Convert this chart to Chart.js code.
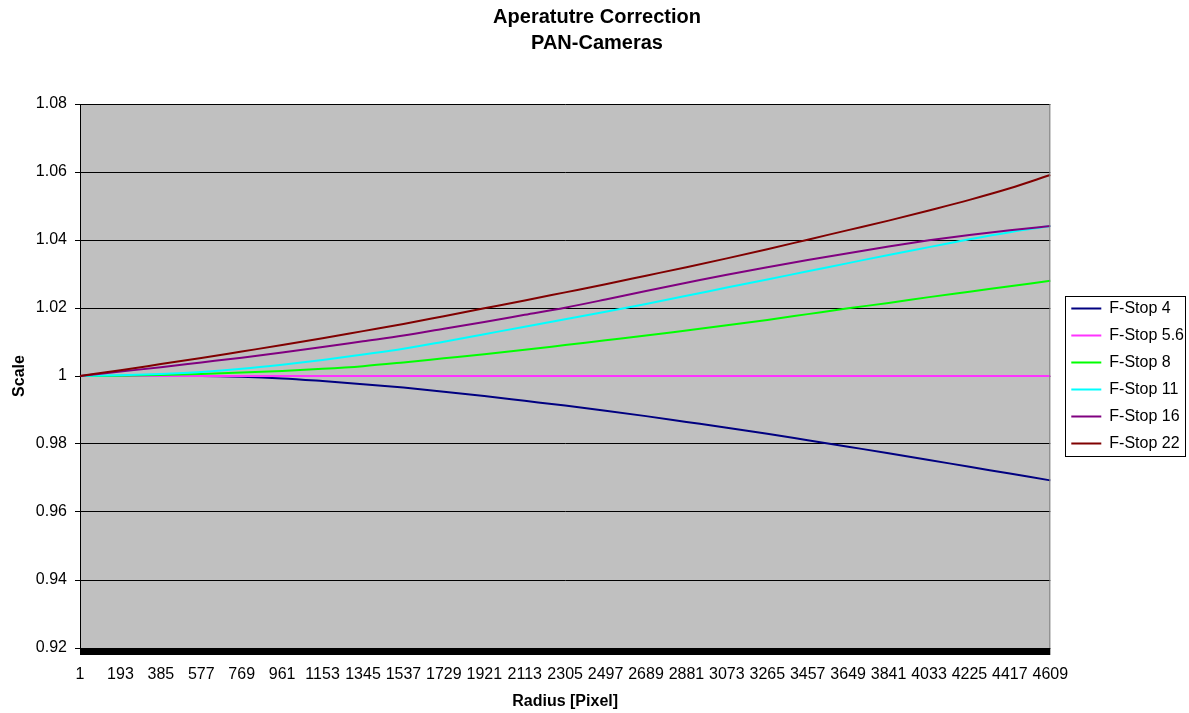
<!DOCTYPE html>
<html><head><meta charset="utf-8">
<script src="https://cdn.jsdelivr.net/npm/chart.js@4.4.0/dist/chart.umd.min.js"></script>
<style>html,body{margin:0;padding:0;background:#fff}#wrap{width:1189px;height:713px;position:relative}</style>
</head><body><div id="wrap"><canvas id="c"></canvas></div>
<script>
const radius = [1,193,385,577,769,961,1153,1345,1537,1729,1921,2113,2305,2497,2689,2881,3073,3265,3457,3649,3841,4033,4225,4417,4609];
const fStop4  = [1.0000,1.0000,1.0000,1.0000,0.9998,0.9993,0.9985,0.9976,0.9966,0.9954,0.9941,0.9927,0.9913,0.9898,0.9882,0.9865,0.9848,0.9830,0.9811,0.9792,0.9773,0.9753,0.9733,0.9713,0.9693];
const fStop56 = [1,1,1,1,1,1,1,1,1,1,1,1,1,1,1,1,1,1,1,1,1,1,1,1,1];
const fStop8  = [1.0000,1.0001,1.0003,1.0006,1.0010,1.0015,1.0021,1.0029,1.0040,1.0052,1.0064,1.0077,1.0091,1.0105,1.0119,1.0134,1.0149,1.0165,1.0182,1.0199,1.0215,1.0232,1.0248,1.0264,1.0280];
const fStop11 = [1.0000,1.0002,1.0006,1.0012,1.0021,1.0033,1.0047,1.0063,1.0080,1.0101,1.0123,1.0145,1.0167,1.0189,1.0212,1.0236,1.0260,1.0284,1.0308,1.0332,1.0356,1.0379,1.0402,1.0423,1.0441];
const fStop16 = [1.0000,1.0013,1.0026,1.0040,1.0054,1.0069,1.0085,1.0102,1.0119,1.0139,1.0159,1.0180,1.0201,1.0225,1.0250,1.0274,1.0298,1.0320,1.0341,1.0361,1.0381,1.0399,1.0415,1.0429,1.0441];
const fStop22 = [1.0000,1.0017,1.0035,1.0053,1.0072,1.0091,1.0111,1.0132,1.0153,1.0176,1.0199,1.0222,1.0246,1.0270,1.0295,1.0320,1.0346,1.0373,1.0401,1.0429,1.0457,1.0487,1.0518,1.0552,1.0591];
const seriesNames = ['F-Stop 4','F-Stop 5.6','F-Stop 8','F-Stop 11','F-Stop 16','F-Stop 22'];
const seriesColors = ['#000080','#FF33FF','#00FF00','#00FFFF','#800080','#800000'];
const yMin = 0.92, yMax = 1.08, yStep = 0.02;

const FONT = '"Liberation Sans", Arial, sans-serif';
const seriesData = [fStop4, fStop56, fStop8, fStop11, fStop16, fStop22];

const decor = {
  id: 'decor',
  beforeDraw(chart) {
    const {ctx, chartArea: a} = chart;
    ctx.save();
    ctx.fillStyle = '#C0C0C0';
    ctx.fillRect(a.left, a.top, a.right - a.left, a.bottom - a.top);
    ctx.restore();
  },
  afterDraw(chart) {
    const {ctx, chartArea: a} = chart;
    ctx.save();
    ctx.strokeStyle = '#808080';
    ctx.lineWidth = 1;
    ctx.beginPath();
    ctx.moveTo(a.right - 0.5, a.top);
    ctx.lineTo(a.right - 0.5, a.bottom);
    ctx.stroke();
    ctx.fillStyle = '#000';
    ctx.fillRect(a.left, a.bottom, a.right - a.left, 7);
    const hb = chart.legend.legendHitBoxes;
    if (hb && hb.length) {
      const l = Math.min(...hb.map(h => h.left)) - 6;
      const r = Math.max(...hb.map(h => h.left + h.width)) + 1;
      const t = Math.min(...hb.map(h => h.top)) - 5;
      const b = Math.max(...hb.map(h => h.top + h.height)) + 4;
      ctx.strokeStyle = '#000';
      ctx.strokeRect(Math.round(l) + 0.5, Math.round(t) + 0.5, Math.round(r - l), Math.round(b - t));
    }
    ctx.restore();
  }
};

new Chart(document.getElementById('c'), {
  type: 'line',
  data: {
    labels: radius,
    datasets: seriesNames.map((n, i) => ({
      label: n,
      data: seriesData[i],
      borderColor: seriesColors[i],
      backgroundColor: seriesColors[i],
      borderWidth: 2,
      pointRadius: 0,
      pointHoverRadius: 0,
      cubicInterpolationMode: 'monotone',
      fill: false,
      order: seriesNames.length - i
    }))
  },
  options: {
    responsive: true,
    maintainAspectRatio: false,
    animation: false,
    layout: { padding: { left: 0, right: -5, top: 0, bottom: 0 } },
    plugins: {
      title: {
        display: true,
        text: ['Aperatutre Correction', 'PAN-Cameras'],
        color: '#000',
        font: { family: FONT, size: 20, weight: 'bold', lineHeight: 1.3 },
        padding: { top: 4, bottom: 48 }
      },
      legend: {
        position: 'right',
        fullSize: false,
        labels: {
          boxWidth: 30,
          boxHeight: 2,
          padding: 11,
          color: '#000',
          font: { family: FONT, size: 16 },
          sort: (a, b) => a.datasetIndex - b.datasetIndex,
          generateLabels(chart) {
            const items = Chart.defaults.plugins.legend.labels.generateLabels(chart);
            items.forEach(it => { it.lineWidth = 0; it.fillStyle = it.strokeStyle; });
            return items;
          }
        }
      },
      tooltip: { enabled: false }
    },
    scales: {
      x: {
        type: 'category',
        offset: false,
        grid: { display: false, drawTicks: false },
        border: { display: false },
        ticks: { autoSkip: false, maxRotation: 0, minRotation: 0, padding: 17, color: '#000', font: { family: FONT, size: 16 } },
        title: { display: true, text: 'Radius [Pixel]', color: '#000', font: { family: FONT, size: 16, weight: 'bold' }, padding: { top: 6, bottom: 2 } },
        afterFit(s) { s.height = 65; }
      },
      y: {
        min: yMin,
        max: yMax,
        grid: { color: '#000', lineWidth: 1, tickLength: 5, drawTicks: true },
        border: { display: true, color: '#000', width: 1 },
        ticks: { stepSize: yStep, padding: 8, color: '#000', font: { family: FONT, size: 16 }, callback: v => String(+(+v).toFixed(2)) },
        title: { display: true, text: 'Scale', color: '#000', font: { family: FONT, size: 16, weight: 'bold' }, padding: { top: 10, bottom: 6 } },
        afterFit(s) { s.width = 80; }
      },
      gap: {
        type: 'linear',
        position: 'right',
        display: true,
        grid: { display: false },
        border: { display: false },
        ticks: { display: false },
        afterFit(s) { s.width = 10; }
      }
    }
  },
  plugins: [decor]
});
</script>
</body></html>
